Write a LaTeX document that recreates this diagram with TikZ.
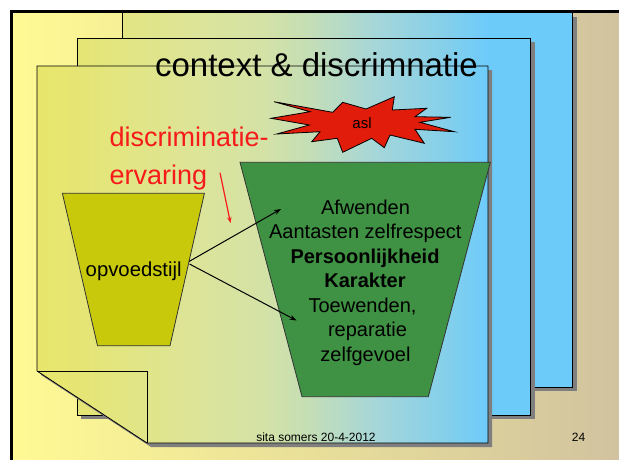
\documentclass[tikz,border=0pt]{standalone}
\usepackage{fontspec}
\setmainfont{Liberation Sans}
\usetikzlibrary{arrows.meta}
\definecolor{bgL}{HTML}{FFFA94}
\definecolor{bgM}{HTML}{F3EDCB}
\definecolor{bgR}{HTML}{D1C39F}
\definecolor{pgL}{HTML}{E8E66A}
\definecolor{pgA}{HTML}{E4E57A}
\definecolor{pgB}{HTML}{DCE49A}
\definecolor{pgM}{HTML}{D4E2A6}
\definecolor{pgC}{HTML}{C5DEB5}
\definecolor{pgD}{HTML}{A3D6DB}
\definecolor{pgE}{HTML}{88D0E8}
\definecolor{pgR}{HTML}{6DCBFA}
\definecolor{shad}{HTML}{7F7F7F}
\definecolor{olive}{HTML}{C8C90A}
\definecolor{leaf}{HTML}{3F9143}
\definecolor{starred}{HTML}{E11C0A}
\definecolor{redtxt}{HTML}{F61A1A}
\pgfdeclarehorizontalshading{pageshade}{100bp}{color(0bp)=(pgL); color(25bp)=(pgL); color(32bp)=(pgA); color(43bp)=(pgB); color(50bp)=(pgM); color(55bp)=(pgC); color(63bp)=(pgD); color(69.5bp)=(pgE); color(75bp)=(pgR); color(100bp)=(pgR)}
\newcommand\sheetfill[1]{%
  \begin{scope}
    \clip #1;
    \shade[shading=pageshade] (37,0) rectangle (488,460);
    \fill[pgR] (487.5,0) rectangle (600,460);
  \end{scope}}
\tikzset{
  txt/.style={inner sep=0pt, anchor=base},
  gtxt/.style={txt, font=\fontsize{20}{24}\selectfont},
  edge/.style={draw=black, line width=0.8pt},
  arr/.style={line width=1pt, -{Stealth[length=7pt,width=5pt]}},
}
\begin{document}
\begin{tikzpicture}[x=1pt,y=-1pt]
\useasboundingbox (0,0) rectangle (619,459);
\fill[white] (0,0) rectangle (619,459);
\shade[left color=bgL, middle color=bgM, right color=bgR] (11.5,11.5) rectangle (619,459);
% back sheet
\fill[shad] (126.7,16.5) rectangle (576.5,391.3);
\sheetfill{(122.7,12.5) rectangle (572.5,387.3)}
\draw[edge] (122.7,12.5) rectangle (572.5,387.3);
% middle sheet
\fill[shad] (81.3,42) rectangle (534.7,419);
\sheetfill{(77.3,38) rectangle (530.7,415)}
\draw[edge] (77.3,38) rectangle (530.7,415);
% front sheet
\fill[shad] (41,70) -- (492,70) -- (492,447) -- (151,447) -- (41,375) -- cycle;
\sheetfill{(37,66) -- (488,66) -- (488,443) -- (147,443) -- (37,371) -- cycle}
\draw[edge] (37,66) -- (488,66) -- (488,443) -- (147,443) -- (37,371) -- cycle;
\draw[edge, line width=1pt] (37,371) -- (147,371) -- (147,443);
% frame
\draw[line width=2.4pt, line cap=rect] (11.5,459) -- (11.5,11.5) -- (619,11.5);
% title
\node[txt, font=\fontsize{33}{36}\selectfont] (title) at (316.5,76) {context \& discrimnatie};
% star
\filldraw[fill=starred, draw=black, line width=0.8pt]
  (274,101.7) -- (332.7,112.3) -- (342.7,102.3) -- (366,109) -- (394.3,96.7)
  -- (392.3,110) -- (426.7,108.3) -- (415,116.7) -- (450.7,117.3) -- (420,122.3)
  -- (454.3,131.7) -- (415,129.3) -- (424.3,143.3) -- (390,135) -- (384.3,147.7)
  -- (371.7,138.3) -- (342.7,152.3) -- (337.3,138.3) -- (311.7,141.7) -- (320,131.7)
  -- (276.7,134) -- (309.3,125) -- (271,118.3) -- (310,111.7) -- cycle;
\node[txt, font=\fontsize{15}{18}\selectfont] (asl) at (362,128) {asl};
% red text
\node[txt, anchor=base west, text=redtxt, font=\fontsize{27}{30}\selectfont] (d1) at (109.5,146.7) {discriminatie-};
\node[txt, anchor=base west, text=redtxt, font=\fontsize{27}{30}\selectfont] (d2) at (109.5,184) {ervaring};
\coordinate (r1) at (220,172.7);
\coordinate (r2) at (230.5,223);
\draw[redtxt, line width=1.2pt, -{Stealth[length=6pt,width=4.5pt]}] (r1) -- (r2);
% opvoedstijl trapezoid
\filldraw[fill=olive, draw=black!80, line width=0.8pt] (62.4,193.3) -- (204.4,193.3) -- (170,345.7) -- (97.5,345.7) -- cycle;
\node[txt, font=\fontsize{20.3}{24}\selectfont] (opv) at (133.7,276.7) {opvoedstijl};
% green trapezoid
\filldraw[fill=leaf, draw=black!80, line width=0.8pt] (240,162.3) -- (490.3,162.3) -- (428.3,396.7) -- (302,396.7) -- cycle;
\node[gtxt] (g1) at (365.5,214) {Afwenden};
\node[gtxt] (g2) at (365.3,238.5) {Aantasten zelfrespect};
\node[gtxt, font=\fontsize{20}{24}\selectfont\bfseries] (g3) at (365,263) {Persoonlijkheid};
\node[gtxt, font=\fontsize{20}{24}\selectfont\bfseries] (g4) at (365,287.5) {Karakter};
\node[gtxt] (g5) at (362.5,312) {Toewenden,};
\node[gtxt] (g6) at (367.5,336.5) {reparatie};
\node[gtxt] (g7) at (365.5,361) {zelfgevoel};
% arrows
\coordinate (a0) at (189,261.5);
\coordinate (b0) at (189.5,264);
\coordinate (a1) at (281,209);
\coordinate (b1) at (296.5,320.5);
\draw[arr] (a0) -- (a1);
\draw[arr] (b0) -- (b1);
% footer
\node[txt, font=\fontsize{12}{14}\selectfont] (foot) at (316,441) {sita somers 20-4-2012};
\node[txt, font=\fontsize{12}{14}\selectfont] (num) at (578.5,441) {24};
\end{tikzpicture}
\end{document}
